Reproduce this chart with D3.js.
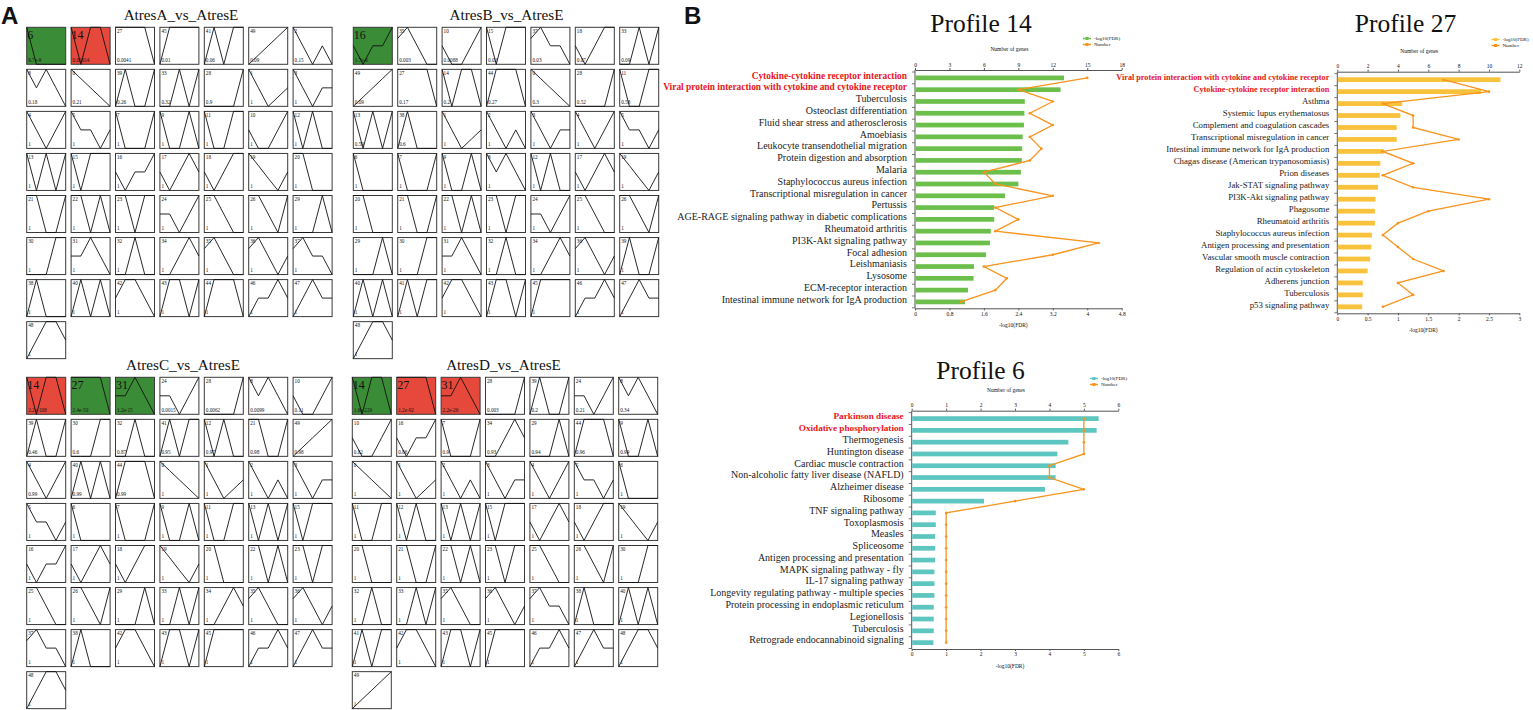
<!DOCTYPE html>
<html>
<head>
<meta charset="utf-8">
<script src="https://cdn.jsdelivr.net/npm/d3@7"></script>
<style>
  body { margin: 0; background: #fff; }
  svg { display: block; }
  text { font-family: "Liberation Serif", "Times New Roman", serif; fill: #111; }
</style>
</head>
<body>
<div id="chart"></div>
<script>
// STEM model profiles 0..49, value at each of the 5 time points (0 = box bottom, 1 = box top)
const profileShapes = [
    [1, .75, .5, .25, 0], [1, .5, 0, .25, .5], [1, .5, 0, .5, 0], [1, .5, 0, .5, .5], [1, .5, 0, .5, 1],
    [1, .5, .5, 0, .5], [1, 0, 0, 0, 0], [1, 0, 0, 0, 1], [1, .5, 1, .5, 0], [1, 0, 0, 1, 0],
    [.5, 0, 0, .5, 1], [1, 0, 0, 1, 1], [1, 0, 1, 0, 0], [1, 0, 1, 0, 1], [1, 0, 1, 1, 0],
    [1, 0, 1, 1, 1], [.5, 0, .5, .5, 1], [.5, 0, .5, 1, .5], [.5, 0, .5, 1, 1], [1, .67, .33, 0, .5],
    [1, 1, 0, 0, 0], [1, 1, 0, 0, 1], [1, 1, 0, 1, 0], [1, 1, 0, 1, 1], [.5, .5, 0, .5, 1],
    [1, 1, .5, 0, 0], [1, 1, .5, 0, 1], [1, 1, 1, 1, 0], [0, 0, 0, 0, 1], [0, 0, 0, 1, 0],
    [0, 0, 0, 1, 1], [.5, .5, 1, .5, 0], [0, 0, 1, 0, 0], [0, 0, 1, 0, 1], [0, 0, .5, 1, .5],
    [.7, 1, .5, 0, 0], [.7, 1, .5, 0, .5], [.7, 1, .5, .5, 0], [0, 1, 0, 0, 0], [0, 1, 0, 0, 1],
    [0, 1, 0, 1, 0], [0, 1, 0, 1, 1], [.5, 1, 1, .5, 0], [0, 1, 1, 0, 1], [0, 1, 1, 1, 0],
    [0, 1, 1, 1, 1], [0, .5, .5, 1, .5], [0, .5, 1, .5, .5], [0, .5, 1, 1, .5], [0, .25, .5, .75, 1]
];

// profile order and p-values of each comparison
const gridAIds = [6, 14, 27, 45, 41, 49, 2, 8, 0, 39, 33, 28, 1, 3, 4, 5, 7, 9, 11, 10, 12,
    13, 15, 16, 17, 18, 19, 20, 21, 22, 23, 24, 25, 26, 29, 30, 31, 32, 34, 35, 36, 37,
    38, 40, 42, 43, 44, 46, 47, 48];
const gridAP = ["9.7e-9", "0.00014", "0.0041", "0.01", "0.06", "0.09", "0.15",
    "0.18", "0.21", "0.26", "0.32", "0.9", "1", "1",
    "1", "1", "1", "1", "1", "1", "1",
    "1", "1", "1", "1", "1", "1", "1",
    "1", "1", "1", "1", "1", "1", "1",
    "1", "1", "1", "1", "1", "1", "1",
    "1", "1", "1", "1", "1", "1", "1",
    "1"];
const gridAUp = [14];
const gridADown = [6];

const gridBIds = [16, 35, 10, 15, 37, 18, 33, 49, 27, 14, 44, 0, 28, 11, 13, 38, 1, 2, 3, 4, 5,
    6, 7, 9, 8, 12, 17, 19, 20, 21, 22, 23, 24, 25, 26, 29, 30, 31, 32, 34, 36, 39,
    40, 41, 42, 43, 45, 46, 47, 48];
const gridBP = ["1.7e-6", "0.003", "0.0088", "0.02", "0.03", "0.07", "0.09",
    "0.09", "0.17", "0.2", "0.27", "0.3", "0.52", "0.58",
    "0.59", "0.6", "1", "1", "1", "1", "1",
    "1", "1", "1", "1", "1", "1", "1",
    "1", "1", "1", "1", "1", "1", "1",
    "1", "1", "1", "1", "1", "1", "1",
    "1", "1", "1", "1", "1", "1", "1",
    "1"];
const gridBUp = [];
const gridBDown = [16];

const gridCIds = [14, 27, 31, 24, 28, 8, 10, 39, 30, 32, 41, 12, 21, 49, 4, 40, 44, 0, 1, 2, 3,
    5, 6, 7, 9, 11, 13, 15, 16, 17, 18, 19, 20, 22, 23, 25, 26, 29, 33, 34, 35, 36,
    37, 38, 42, 43, 45, 46, 47, 48];
const gridCP = ["2.2e-108", "2.4e-50", "1.2e-15", "0.0015", "0.0062", "0.0099", "0.11",
    "0.46", "0.6", "0.87", "0.95", "0.97", "0.98", "0.98",
    "0.99", "0.99", "0.99", "1", "1", "1", "1",
    "1", "1", "1", "1", "1", "1", "1",
    "1", "1", "1", "1", "1", "1", "1",
    "1", "1", "1", "1", "1", "1", "1",
    "1", "1", "1", "1", "1", "1", "1",
    "1"];
const gridCUp = [14];
const gridCDown = [27, 31];

const gridDIds = [14, 27, 31, 28, 39, 24, 8, 10, 16, 7, 34, 29, 44, 9, 0, 1, 2, 3, 4, 5, 6,
    11, 12, 13, 15, 17, 18, 19, 20, 21, 22, 23, 25, 26, 30, 32, 33, 35, 36, 37, 38, 40,
    41, 42, 43, 45, 46, 47, 48, 49];
const gridDP = ["1.6e-229", "1.2e-92", "2.2e-26", "0.003", "0.2", "0.21", "0.34",
    "0.82", "0.86", "0.9", "0.93", "0.94", "0.96", "0.99",
    "1", "1", "1", "1", "1", "1", "1",
    "1", "1", "1", "1", "1", "1", "1",
    "1", "1", "1", "1", "1", "1", "1",
    "1", "1", "1", "1", "1", "1", "1",
    "1", "1", "1", "1", "1", "1", "1",
    "1"];
const gridDUp = [27, 31];
const gridDDown = [14];

// KEGG enrichment of the three profiles
const p14Terms = ["Cytokine-cytokine receptor interaction",
    "Viral protein interaction with cytokine and cytokine receptor",
    "Tuberculosis", "Osteoclast differentiation", "Fluid shear stress and atherosclerosis",
    "Amoebiasis", "Leukocyte transendothelial migration", "Protein digestion and absorption",
    "Malaria", "Staphylococcus aureus infection", "Transcriptional misregulation in cancer",
    "Pertussis", "AGE-RAGE signaling pathway in diabetic complications", "Rheumatoid arthritis",
    "PI3K-Akt signaling pathway", "Focal adhesion", "Leishmaniasis", "Lysosome",
    "ECM-receptor interaction", "Intestinal immune network for IgA production"];
const p14Fdr = [3.46, 3.38, 2.55, 2.54, 2.53, 2.50, 2.49, 2.48, 2.46, 2.40,
    2.09, 1.84, 1.84, 1.76, 1.74, 1.65, 1.37, 1.36, 1.23, 1.16];
const p14Genes = [15, 9, 12, 10, 12, 10, 11, 10, 6, 7, 12, 7, 9, 7, 16, 12, 6, 8, 7, 4];

const p27Terms = ["Viral protein interaction with cytokine and cytokine receptor",
    "Cytokine-cytokine receptor interaction", "Asthma", "Systemic lupus erythematosus",
    "Complement and coagulation cascades", "Transcriptional misregulation in cancer",
    "Intestinal immune network for IgA production", "Chagas disease (American trypanosomiasis)",
    "Prion diseases", "Jak-STAT signaling pathway", "PI3K-Akt signaling pathway", "Phagosome",
    "Rheumatoid arthritis", "Staphylococcus aureus infection", "Antigen processing and presentation",
    "Vascular smooth muscle contraction", "Regulation of actin cytoskeleton", "Adherens junction",
    "Tuberculosis", "p53 signaling pathway"];
const p27Fdr = [2.69, 2.37, 1.07, 1.04, 0.98, 0.98, 0.76, 0.71, 0.70, 0.67,
    0.63, 0.62, 0.62, 0.57, 0.56, 0.54, 0.50, 0.42, 0.42, 0.41];
const p27Genes = [7, 10, 3, 5, 5, 8, 3, 5, 3, 5, 10, 6, 4, 3, 4, 5, 7, 4, 5, 3];

const p6Terms = ["Parkinson disease", "Oxidative phosphorylation", "Thermogenesis",
    "Huntington disease", "Cardiac muscle contraction", "Non-alcoholic fatty liver disease (NAFLD)",
    "Alzheimer disease", "Ribosome", "TNF signaling pathway", "Toxoplasmosis", "Measles",
    "Spliceosome", "Antigen processing and presentation", "MAPK signaling pathway - fly",
    "IL-17 signaling pathway", "Longevity regulating pathway - multiple species",
    "Protein processing in endoplasmic reticulum", "Legionellosis", "Tuberculosis",
    "Retrograde endocannabinoid signaling"];
const p6Fdr = [5.43, 5.37, 4.55, 4.23, 4.18, 4.18, 3.87, 2.10, 0.70, 0.70,
    0.68, 0.68, 0.68, 0.66, 0.66, 0.66, 0.64, 0.64, 0.64, 0.63];
const p6Genes = [5, 5, 5, 5, 4, 4, 5, 3, 1, 1, 1, 1, 1, 1, 1, 1, 1, 1, 1, 1];

const highlightCount = 2;


const width = 1533, height = 710;
const svg = d3.select("#chart").append("svg")
    .attr("width", width)
    .attr("height", height);

const upColour = "#e6483b", downColour = "#3b8c36", lineColour = "#f7941d";

// panel letters
svg.append("text").attr("x", 1).attr("y", 24)
    .style("font-family", "'Liberation Sans', Arial, sans-serif")
    .attr("font-weight", "bold").attr("font-size", 24).text("A");
svg.append("text").attr("x", 684).attr("y", 24)
    .style("font-family", "'Liberation Sans', Arial, sans-serif")
    .attr("font-weight", "bold").attr("font-size", 24).text("B");


function drawGrid(cfg, ids, pvals, upIds, downIds) {
    const cellW = 39, cellH = 37, stepX = 44.4, stepY = 42.05;
    const g = svg.append("g");

    g.append("text")
        .attr("x", cfg.titleX).attr("y", cfg.titleY)
        .attr("text-anchor", "middle").attr("font-size", 15.2)
        .text(cfg.title);

    const sx = d3.scaleLinear().domain([0, 4]).range([0, cellW]);
    const sy = d3.scaleLinear().domain([0, 1]).range([cellH, 0]);
    const line = d3.line().x((v, k) => sx(k)).y(v => sy(v));

    const cells = g.selectAll("g.cell")
        .data(ids.map((id, i) => ({id, p: pvals[i], i})))
        .join("g")
        .attr("class", "cell")
        .attr("transform", d => `translate(${cfg.x0 + (d.i % 7) * stepX},${cfg.y0 + Math.floor(d.i / 7) * stepY})`);

    const sig = d => upIds.includes(d.id) ? "up" : (downIds.includes(d.id) ? "down" : null);

    cells.append("rect")
        .attr("width", cellW).attr("height", cellH)
        .attr("fill", d => sig(d) === "up" ? upColour : (sig(d) === "down" ? downColour : "#fff"))
        .attr("stroke", "#3a3a3a").attr("stroke-width", 1);

    cells.append("path")
        .attr("d", d => line(profileShapes[d.id]))
        .attr("fill", "none").attr("stroke", "#111").attr("stroke-width", 0.9);

    cells.append("text")
        .attr("x", d => sig(d) ? 0.5 : 1.5)
        .attr("y", d => sig(d) ? 11.5 : 5.5)
        .attr("font-size", d => sig(d) ? 12 : 5.2)
        .text(d => d.id);

    cells.append("text")
        .attr("x", 1.5).attr("y", cellH - 2.5)
        .attr("font-size", 5.2)
        .text(d => d.p);
}

drawGrid({title: "AtresA_vs_AtresE", titleX: 181, titleY: 19.5, x0: 26.7, y0: 27.3},
    gridAIds, gridAP, gridAUp, gridADown);
drawGrid({title: "AtresB_vs_AtresE", titleX: 506.5, titleY: 19.5, x0: 353.3, y0: 27.3},
    gridBIds, gridBP, gridBUp, gridBDown);
drawGrid({title: "AtresC_vs_AtresE", titleX: 183, titleY: 369.5, x0: 26.7, y0: 377.3},
    gridCIds, gridCP, gridCUp, gridCDown);
drawGrid({title: "AtresD_vs_AtresE", titleX: 503.5, titleY: 369.5, x0: 352.3, y0: 377.3},
    gridDIds, gridDP, gridDUp, gridDDown);


function drawProfile(cfg, terms, fdr, genes) {
    const g = svg.append("g");
    const axisColour = "#555";

    g.append("text")
        .attr("x", cfg.titleX).attr("y", cfg.titleY)
        .attr("text-anchor", "middle").attr("font-size", 25.5)
        .text(cfg.title);

    const xFdr = d3.scaleLinear().domain([0, cfg.fdrMax]).range([cfg.x0, cfg.x1]);
    const xGenes = d3.scaleLinear().domain([0, cfg.genesMax]).range([cfg.x0, cfg.x1]);
    const y = d3.scaleBand()
        .domain(terms)
        .range([cfg.yTop + 2, cfg.yBot - 0.5])
        .paddingInner(0.6).paddingOuter(0.3);

    // top axis: number of genes
    const top = g.append("g")
        .attr("transform", `translate(0,${cfg.yTop})`)
        .call(d3.axisTop(xGenes).tickValues(d3.range(0, cfg.genesMax + 0.001, cfg.genesStep))
            .tickFormat(d3.format("~g"))
            .tickSize(2).tickSizeOuter(0).tickPadding(1.5));
    // bottom axis: -log10(FDR)
    const bottom = g.append("g")
        .attr("transform", `translate(0,${cfg.yBot})`)
        .call(d3.axisBottom(xFdr).tickValues(d3.range(0, cfg.fdrMax + 0.001, cfg.fdrStep))
            .tickFormat(d3.format("~g"))
            .tickSize(2).tickSizeOuter(0).tickPadding(1.5));
    [top, bottom].forEach(a => {
        a.select(".domain").attr("stroke", axisColour);
        a.selectAll(".tick line").attr("stroke", axisColour);
        a.selectAll(".tick text")
            .attr("font-family", "'Liberation Serif', 'Times New Roman', serif")
            .attr("font-size", 5.5).attr("fill", "#333");
    });

    // left axis with ticks at the band edges
    g.append("line")
        .attr("x1", cfg.x0).attr("x2", cfg.x0)
        .attr("y1", cfg.yTop).attr("y2", cfg.yBot)
        .attr("stroke", axisColour).attr("stroke-width", 1);
    const edges = terms.map(t => y(t) - y.step() * 0.3).concat([y(terms[terms.length - 1]) + y.step() * 0.7]);
    g.selectAll("line.edge").data(edges).join("line")
        .attr("class", "edge")
        .attr("x1", cfg.x0 - 3).attr("x2", cfg.x0)
        .attr("y1", d => d).attr("y2", d => d)
        .attr("stroke", axisColour).attr("stroke-width", 0.8);

    g.append("text")
        .attr("x", (cfg.x0 + cfg.x1) / 2 - 9).attr("y", cfg.yTop - 19)
        .attr("text-anchor", "middle").attr("font-size", 5.5).attr("fill", "#333")
        .text("Number of genes");
    g.append("text")
        .attr("x", (cfg.x0 + cfg.x1) / 2 - 5).attr("y", cfg.yBot + 18.5)
        .attr("text-anchor", "middle").attr("font-size", 5.5).attr("fill", "#333")
        .text("-log10(FDR)");

    // bars
    g.selectAll("rect.bar").data(terms).join("rect")
        .attr("class", "bar")
        .attr("x", cfg.x0 + 0.5)
        .attr("y", t => y(t))
        .attr("width", (t, i) => xFdr(fdr[i]) - cfg.x0 - 0.5)
        .attr("height", y.bandwidth())
        .attr("fill", cfg.colour);

    // term labels
    g.selectAll("text.term").data(terms).join("text")
        .attr("class", "term")
        .attr("x", cfg.x0 - 8)
        .attr("y", t => y(t) + y.bandwidth() / 2 + 0.8)
        .attr("text-anchor", "end")
        .attr("font-size", (t, i) => i < highlightCount ? cfg.boldSize : cfg.fontSize)
        .attr("font-weight", (t, i) => i < highlightCount ? "bold" : "normal")
        .style("fill", (t, i) => i < highlightCount ? "#e8141b" : "#222")
        .text(t => t);

    // number of genes line
    const pts = terms.map((t, i) => [xGenes(genes[i]), y(t) + y.bandwidth() / 2]);
    g.append("path")
        .attr("d", d3.line()(pts))
        .attr("fill", "none").attr("stroke", lineColour).attr("stroke-width", 1.3);
    g.selectAll("circle.pt").data(pts).join("circle")
        .attr("class", "pt")
        .attr("cx", d => d[0]).attr("cy", d => d[1]).attr("r", 1.3)
        .attr("fill", lineColour);

    // legend
    const legend = [{label: "-log10(FDR)", colour: cfg.colour}, {label: "Number", colour: lineColour}];
    const lg = g.selectAll("g.legend").data(legend).join("g")
        .attr("class", "legend")
        .attr("transform", (d, i) => `translate(${cfg.legendX},${cfg.legendY + i * 6})`);
    lg.append("line").attr("x1", 0).attr("x2", 8).attr("y1", 0).attr("y2", 0)
        .attr("stroke", d => d.colour).attr("stroke-width", 1.5);
    lg.append("rect").attr("x", 2.5).attr("y", -1.5).attr("width", 3).attr("height", 3)
        .attr("fill", d => d.colour);
    lg.append("text").attr("x", 11).attr("y", 1.8)
        .attr("font-size", 5).attr("fill", "#333")
        .text(d => d.label);
}

drawProfile({title: "Profile 14", titleX: 981, titleY: 32, x0: 915, x1: 1121.7, yTop: 70, yBot: 308.3,
        genesMax: 18, genesStep: 3, fdrMax: 4.8, fdrStep: 0.8, colour: "#6dbf4c",
        fontSize: 10, boldSize: 9.4, legendX: 1083, legendY: 38.5},
    p14Terms, p14Fdr, p14Genes);
drawProfile({title: "Profile 27", titleX: 1405.5, titleY: 32, x0: 1337.3, x1: 1519.3, yTop: 71.7, yBot: 313.3,
        genesMax: 12, genesStep: 2, fdrMax: 3, fdrStep: 0.5, colour: "#f9c23d",
        fontSize: 8.8, boldSize: 8.2, legendX: 1491.5, legendY: 39.5},
    p27Terms, p27Fdr, p27Genes);
drawProfile({title: "Profile 6", titleX: 980.5, titleY: 379, x0: 911.7, x1: 1118.3, yTop: 410.7, yBot: 649,
        genesMax: 6, genesStep: 1, fdrMax: 6, fdrStep: 1, colour: "#5ec6c0",
        fontSize: 10, boldSize: 9.2, legendX: 1090, legendY: 378.5},
    p6Terms, p6Fdr, p6Genes);
</script>
</body>
</html>
